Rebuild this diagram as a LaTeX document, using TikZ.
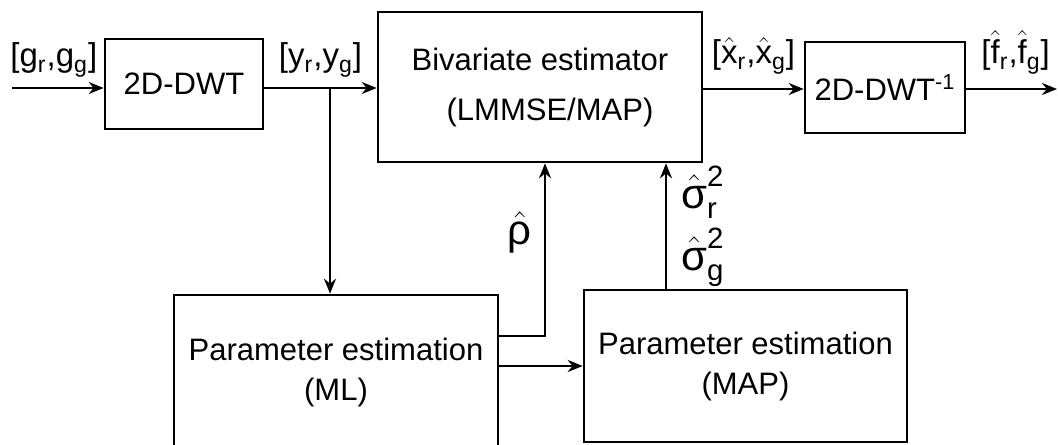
\documentclass[tikz,border=0pt]{standalone}
\usepackage{amsmath}
\usepackage{fontspec}
\setmainfont{Liberation Sans}
\usetikzlibrary{arrows.meta, positioning, calc}

\begin{document}
\begin{tikzpicture}[x=0.5pt, y=-0.5pt,
  block/.style={draw, line width=1.3pt, align=center, inner sep=0pt, font=\fontsize{15.5}{18}\selectfont},
  sig/.style={line width=1.2pt, -{Stealth[length=7.5pt, width=6pt]}},
  lbl/.style={font=\fontsize{16.5}{18}\selectfont, inner sep=0pt},
  greek/.style={font=\fontsize{21}{31}\selectfont, inner sep=0pt, align=left}]
  \useasboundingbox (0,0) rectangle (1058,444);
  \clip (0,0) rectangle (1058,444);

  % blocks
  \node[block, minimum width=79pt, minimum height=45pt] (dwt) at (184,84) {2D-DWT};
  \node[block, minimum width=162pt, minimum height=75pt] (biv) at (540,87)
    {Bivariate estimator\\[7pt]\hspace{10pt}(LMMSE/MAP)};
  \node[block, minimum width=80pt, minimum height=45.5pt] (idwt) at (885,87.5) {2D-DWT$^{\text{-1}}$};
  \node[block, minimum width=162pt, minimum height=77pt] (ml) at (336,372)
    {Parameter estimation\\[2pt](ML)};
  \node[block, minimum width=161.5pt, minimum height=76pt] (map) at (745.5,366)
    {Parameter estimation\\[2pt](MAP)};

  \coordinate (in) at (12,88);
  \coordinate (br) at (330,88);
  \coordinate (out) at (1057,89);
  \coordinate (rho) at (545,336);
  \coordinate (sg) at (666,0);

  % signal path
  \draw[sig] (in) -- (in -| dwt.west)
    node[lbl, midway, above=5pt, xshift=-2pt] {[g$_\text{r}$,g$_\text{g}$]};
  \draw[sig] (dwt.east |- in) -- (biv.west |- in)
    node[lbl, midway, above=5pt] {[y$_\text{r}$,y$_\text{g}$]};
  \draw[sig] (br) -- (ml.north -| br);
  \draw[sig] (biv.east |- out) -- (idwt.west |- out)
    node[lbl, midway, above=7pt] {[$\hat{\text{x}}_\text{r}$,$\hat{\text{x}}_\text{g}$]};
  \draw[sig] (idwt.east |- out) -- (out)
    node[lbl, midway, above=7pt, xshift=2pt] {[$\hat{\text{f}}_\text{r}$,$\hat{\text{f}}_\text{g}$]};

  % parameters
  \draw[sig] (ml.east |- rho) -| (biv.south -| rho)
    node[greek, pos=0.8, left=6pt] {$\hat{\text{ρ}}$};
  \draw[sig] (ml.east |- map.west) -- (map.west);
  \draw[sig] (map.north -| sg) -- (biv.south -| sg)
    node[greek, midway, right=7pt] {$\hat{\text{σ}}^{\text{2}}_{\text{r}}$\\$\hat{\text{σ}}^{\text{2}}_{\text{g}}$};
\end{tikzpicture}
\end{document}
